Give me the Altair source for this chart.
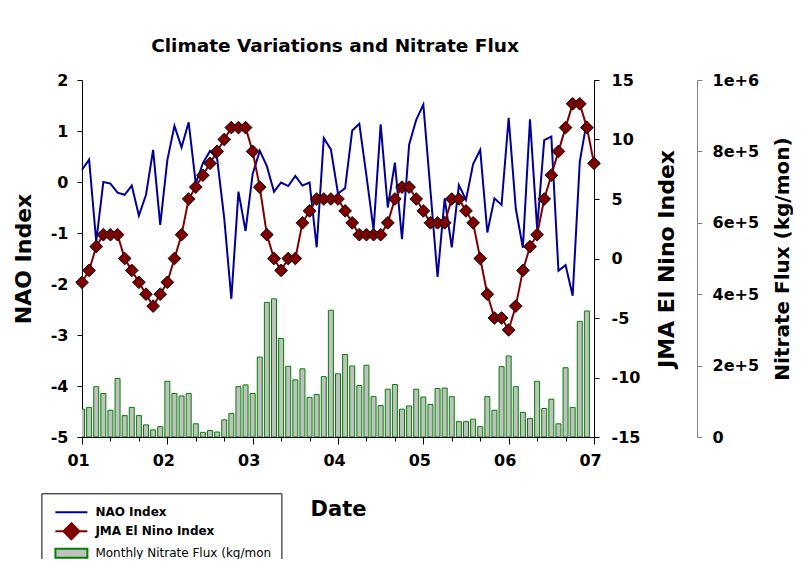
import altair as alt
import pandas as pd

FONT = "DejaVu Sans"

# month index: 0 = Jan 2001 ... 72 = Jan 2007
months = list(range(73))
year_labels = ["01", "02", "03", "04", "05", "06", "07"]

nao = [0.24, 0.44, -1.17, 0.0, -0.03, -0.21, -0.25, -0.07, -0.66, -0.25, 0.63, -0.84,
       0.43, 1.10, 0.68, 1.17, -0.03, 0.37, 0.61, 0.46, -0.71, -2.29, -0.19, -0.96,
       0.16, 0.61, 0.31, -0.19, -0.01, -0.08, 0.12, -0.07, -0.01, -1.28, 0.86, 0.64,
       -0.23, -0.12, 1.01, 1.14, 0.12, -0.94, 1.13, -0.50, 0.38, -1.12, 0.73, 1.22,
       1.52, -0.17, -1.86, -0.32, -1.28, -0.06, -0.35, 0.35, 0.63, -0.99, -0.32, -0.45,
       1.26, -0.52, -1.29, 1.23, -0.91, 0.82, 0.89, -1.74, -1.63, -2.23, 0.40, 1.20]

enso = [-2, -1, 1, 2, 2, 2, 0, -1, -2, -3, -4, -3,
        -2, 0, 2, 5, 6, 7, 8, 9, 10, 11, 11, 11,
        9, 6, 2, 0, -1, 0, 0, 3, 4, 5, 5, 5,
        5, 4, 3, 2, 2, 2, 2, 3, 5, 6, 6, 5,
        4, 3, 3, 3, 5, 5, 4, 3, 0, -3, -5, -5,
        -6, -4, -1, 1, 2, 5, 7, 9, 11, 13, 13, 11,
        8]

flux = [78000, 83000, 141000, 122000, 75000, 164000, 60000, 83000, 60000, 34000, 20000, 29000,
        156000, 122000, 115000, 122000, 37000, 13000, 18000, 14000, 48000, 66000, 141000, 146000,
        122000, 224000, 377000, 387000, 276000, 198000, 160000, 191000, 111000, 119000, 169000, 355000,
        177000, 231000, 199000, 144000, 201000, 113000, 88000, 134000, 147000, 78000, 87000, 134000,
        112000, 91000, 136000, 137000, 113000, 43000, 43000, 50000, 29000, 113000, 75000, 197000,
        227000, 141000, 69000, 52000, 156000, 80000, 106000, 37000, 194000, 83000, 324000, 353000]

series = ["NAO Index", "JMA El Nino Index", "Monthly Nitrate Flux (kg/mon"]
series_fill = ["transparent", "#800000", "#C0C0C0"]
series_stroke = ["#000099", "#800000", "#008000"]
series_shape = ["M-2,0L2,0",
                "M-2,0L2,0M0,-1L1,0L0,1L-1,0Z",
                "M-2,-0.56L2,-0.56L2,0.56L-2,0.56Z"]

nao_df = pd.DataFrame({"m": months[:len(nao)], "nao": nao})
enso_df = pd.DataFrame({"m": months[:len(enso)], "enso": enso})
flux_df = pd.DataFrame({"m": months[:len(flux)], "flux": flux})
legend_df = pd.DataFrame({"series": series})

label_expr = "datum.value % 12 === 0 ? ['" + "','".join(year_labels) + "'][datum.value / 12] : ''"
hyphen_expr = "replace(datum.label, '\u2212', '-')"

x_enc = alt.X(
    "m:Q",
    scale=alt.Scale(domain=[0, 72], nice=False, zero=False, padding=0),
    axis=alt.Axis(
        values=list(range(0, 73, 4)),
        tickSize={"condition": {"test": "datum.value % 12 === 0", "value": 7}, "value": 4},
        labelExpr=label_expr,
        labelFont=FONT, labelFontSize=16, labelFontWeight="bold", labelColor="black",
        labelPadding=8, labelOffset=-4, labelFlush=False,
        domainColor="black", tickColor="black", grid=False,
        title="Date", titleFont=FONT, titleFontSize=21, titleFontWeight="bold",
        titleColor="black", titleX=256, titleY=72, titleBaseline="middle",
        titleAlign="center",
    ),
)

bars = alt.Chart(flux_df).mark_bar(
    size=5, fill="#C0C0C0", stroke="#008000", strokeWidth=1, clip=True
).encode(
    x=x_enc,
    y=alt.Y(
        "flux:Q",
        scale=alt.Scale(domain=[0, 1000000], nice=False),
        axis=alt.Axis(
            orient="right", offset=103, values=list(range(0, 1000001, 200000)),
            labelExpr="datum.value == 0 ? '0' : format(datum.value, '.0e')",
            labelFont=FONT, labelFontSize=16, labelFontWeight="bold", labelColor="black",
            labelPadding=10, labelAlign="left", tickSize=5,
            domainColor="#808080", tickColor="#808080", grid=False,
            title="Nitrate Flux (kg/mon)", titleFont=FONT, titleFontSize=20,
            titleFontWeight="bold", titleColor="black", titleAngle=270,
            titleX=85, titleY=178.5, titleAlign="center", titleBaseline="middle",
        ),
    ),
)

nao_line = alt.Chart(nao_df).mark_line(color="#000099", strokeWidth=2).encode(
    x=x_enc,
    y=alt.Y(
        "nao:Q",
        scale=alt.Scale(domain=[-5, 2], nice=False),
        axis=alt.Axis(
            orient="left", values=list(range(-5, 3)), tickSize=5,
            labelExpr=hyphen_expr,
            labelFont=FONT, labelFontSize=16, labelFontWeight="bold", labelColor="black",
            labelPadding=9, domainColor="black", tickColor="black", grid=False,
            title="NAO Index", titleFont=FONT, titleFontSize=22, titleFontWeight="bold",
            titleColor="black", titleAngle=270, titleX=-59, titleY=178.5,
            titleAlign="center", titleBaseline="middle",
        ),
    ),
)

enso_line = alt.Chart(enso_df).mark_line(
    color="#800000", strokeWidth=2,
    point=alt.OverlayMarkDef(shape="diamond", filled=True, fill="#800000",
                             stroke="black", strokeWidth=1, size=160, opacity=1),
).encode(
    x=x_enc,
    y=alt.Y(
        "enso:Q",
        scale=alt.Scale(domain=[-15, 15], nice=False),
        axis=alt.Axis(
            orient="right", values=list(range(-15, 16, 5)), tickSize=5,
            labelExpr=hyphen_expr,
            labelFont=FONT, labelFontSize=16, labelFontWeight="bold", labelColor="black",
            labelPadding=12, labelAlign="left", domainColor="black", tickColor="black",
            grid=False,
            title="JMA El Nino Index", titleFont=FONT, titleFontSize=22,
            titleFontWeight="bold", titleColor="black", titleAngle=270,
            titleX=72.5, titleY=178.5, titleAlign="center", titleBaseline="middle",
        ),
    ),
)

leg = alt.Legend(
    title=None, orient="none", legendX=-40.6, legendY=413.3, direction="vertical",
    strokeColor="black", fillColor="white", padding=10, cornerRadius=0,
    symbolSize=256, symbolOffset=11, symbolStrokeWidth=2, symbolOpacity=1,
    labelOffset=15, rowPadding=1,
    labelFont=FONT, labelFontSize=12, labelColor="black",
    labelFontWeight=alt.ExprRef(expr="datum.label == 'Monthly Nitrate Flux (kg/mon' ? 'normal' : 'bold'"),
    labelExpr="datum.label == 'Monthly Nitrate Flux (kg/mon' ? datum.label + '\u00a0\u00a0\u00a0\u00a0\u00a0\u00a0\u00a0\u00a0' : datum.label",
    labelLimit=400,
)

legend_layer = alt.Chart(legend_df).mark_point(filled=True, opacity=1).encode(
    fill=alt.Fill("series:N", scale=alt.Scale(domain=series, range=series_fill), legend=leg),
    stroke=alt.Stroke("series:N", scale=alt.Scale(domain=series, range=series_stroke), legend=leg),
    shape=alt.Shape("series:N", scale=alt.Scale(domain=series, range=series_shape), legend=leg),
).transform_filter("false")

chart = alt.layer(bars, nao_line, enso_line, legend_layer).resolve_scale(
    y="independent"
).properties(
    width=512, height=357,
    title=alt.TitleParams("Climate Variations and Nitrate Flux", font=FONT, fontSize=18.5,
                          fontWeight="bold", color="black", anchor="middle", frame="group",
                          offset=17, dx=-3),
    autosize=alt.AutoSizeParams(type="none"),
    padding={"left": 74, "top": 72, "right": 199, "bottom": 122},
).configure_view(stroke=None)

chart.save("out.html", embed_options={"renderer": "svg", "actions": False})
